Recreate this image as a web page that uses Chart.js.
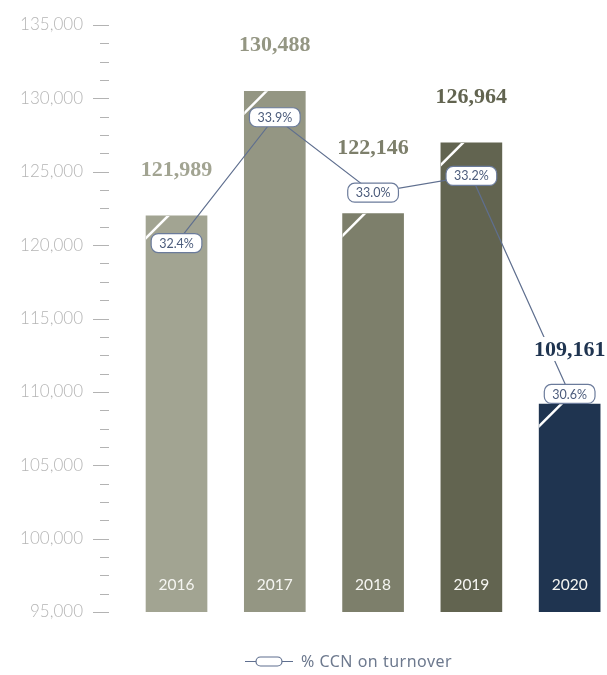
<!DOCTYPE html>
<html>
<head>
<meta charset="utf-8">
<script src="https://cdn.jsdelivr.net/npm/chart.js@4.4.1/dist/chart.umd.min.js"></script>
<style>
  html, body { margin: 0; padding: 0; background: #fff; overflow: hidden; }
</style>
</head>
<body>
<canvas id="myChart" width="607" height="675"></canvas>
<script>
// chart values
const years = ['2016', '2017', '2018', '2019', '2020'];
const turnover = [121989, 130488, 122146, 126964, 109161];
const ccnShare = [32.4, 33.9, 33.0, 33.2, 30.6];
const barColors = ['#a2a492', '#949683', '#7d7f6b', '#626450', '#1f3450'];
const legendLabel = '% CCN on turnover';

const lineColor = '#5f6f8f';
const boxText = '#4b5b7b';
const fmt = v => v.toLocaleString('en-US');

function roundRect(ctx, x, y, w, h, r) {
    ctx.beginPath();
    ctx.moveTo(x + r, y);
    ctx.arcTo(x + w, y, x + w, y + h, r);
    ctx.arcTo(x + w, y + h, x, y + h, r);
    ctx.arcTo(x, y + h, x, y, r);
    ctx.arcTo(x, y, x + w, y, r);
    ctx.closePath();
}

const decor = {
    id: 'decor',
    beforeDatasetsDraw(chart) {
        // major / minor tick marks on the value axis
        let ctx = chart.ctx, scale = chart.scales.y, right = chart.chartArea.left;
        ctx.save();
        ctx.strokeStyle = '#b3b3b3';
        ctx.lineWidth = 1;
        scale.ticks.forEach(t => {
            let y = Math.round(scale.getPixelForValue(t.value)) + 0.5;
            let major = t.value % 5000 === 0;
            ctx.beginPath();
            ctx.moveTo(major ? right - 16 : right - 9, y);
            ctx.lineTo(right, y);
            ctx.stroke();
        });
        ctx.restore();
    },
    afterDatasetDraw(chart, args) {
        if (args.index !== 0) return;
        let ctx = chart.ctx;
        let bottom = chart.chartArea.bottom;
        ctx.save();
        args.meta.data.forEach((bar, i) => {
            let left = bar.x - bar.width / 2;
            // white cut on the top-left corner
            ctx.save();
            ctx.beginPath();
            ctx.rect(left, bar.y, bar.width, bottom - bar.y);
            ctx.clip();
            ctx.strokeStyle = '#ffffff';
            ctx.lineWidth = 2.5;
            ctx.beginPath();
            ctx.moveTo(left - 2, bar.y + 24);
            ctx.lineTo(left + 24, bar.y - 2);
            ctx.stroke();
            ctx.restore();
            // year inside the bar
            ctx.fillStyle = '#f6f6f2';
            ctx.font = '15.5px Lato, "Noto Sans", sans-serif';
            ctx.textAlign = 'center';
            ctx.textBaseline = 'middle';
            ctx.fillText(years[i], bar.x, bottom - 27);
        });
        ctx.restore();
    },
    afterDatasetsDraw(chart) {
        let ctx = chart.ctx;
        let bars = chart.getDatasetMeta(0).data;
        let pts = chart.getDatasetMeta(1).data;
        ctx.save();
        // value labels above the bars, lifted over a nearby % box
        ctx.font = 'bold 22px "Liberation Serif", "DejaVu Serif", serif';
        ctx.textAlign = 'center';
        ctx.textBaseline = 'middle';
        bars.forEach((bar, i) => {
            let y = bar.y - 47;
            if (Math.abs(y - pts[i].y) < 40) y = pts[i].y - 45;
            let txt = fmt(turnover[i]);
            let w = ctx.measureText(txt).width;
            ctx.fillStyle = '#ffffff';
            ctx.fillRect(bar.x - w / 2 - 3, y - 12, w + 6, 24);
            ctx.fillStyle = barColors[i];
            ctx.fillText(txt, bar.x, y + 1);
        });
        // percentage boxes on the line
        ctx.font = '12.5px Lato, "Noto Sans", sans-serif';
        pts.forEach((p, i) => {
            let txt = ccnShare[i].toFixed(1) + '%';
            let w = ctx.measureText(txt).width + 16, h = 19;
            roundRect(ctx, p.x - w / 2, p.y - h / 2, w, h, 7);
            ctx.fillStyle = '#ffffff';
            ctx.fill();
            ctx.strokeStyle = '#6b7b9b';
            ctx.lineWidth = 1.2;
            ctx.stroke();
            ctx.fillStyle = boxText;
            ctx.fillText(txt, p.x, p.y + 0.5);
        });
        // legend
        let ly = 661.5;
        ctx.strokeStyle = lineColor;
        ctx.lineWidth = 1.2;
        ctx.beginPath();
        ctx.moveTo(245, ly);
        ctx.lineTo(293, ly);
        ctx.stroke();
        roundRect(ctx, 256, ly - 4.5, 26, 9, 4.5);
        ctx.fillStyle = '#ffffff';
        ctx.fill();
        ctx.stroke();
        ctx.fillStyle = '#6d798e';
        ctx.font = '16px "Noto Sans", Lato, sans-serif';
        ctx.letterSpacing = '0.5px';
        ctx.textAlign = 'left';
        ctx.fillText(legendLabel, 301, ly + 1);
        ctx.restore();
    }
};

let ctx = document.getElementById('myChart');
let myChart = new Chart(ctx, {
    data: {
        datasets: [{
            type: 'bar',
            label: 'Turnover',
            data: turnover.map((v, i) => ({x: i, y: v})),
            backgroundColor: barColors,
            barThickness: 61,
            order: 1
        }, {
            type: 'line',
            label: legendLabel,
            data: ccnShare.map((v, i) => ({x: i, y: v})),
            yAxisID: 'y2',
            borderColor: lineColor,
            borderWidth: 1.2,
            pointRadius: 0,
            tension: 0,
            clip: false,
            order: 0
        }]
    },
    options: {
        responsive: false,
        animation: false,
        layout: {padding: {left: 0, right: 0, top: 25, bottom: 63}},
        plugins: {legend: {display: false}, tooltip: {enabled: false}},
        scales: {
            x: {
                type: 'linear',
                display: false,
                offset: false,
                min: -0.687,
                max: 4.38
            },
            y: {
                min: 95000,
                max: 135000,
                afterFit: scale => {
                    scale.width = 109;
                    scale.paddingTop = 0;
                    scale.paddingBottom = 0;
                },
                grid: {drawOnChartArea: false, drawTicks: false},
                border: {display: false},
                ticks: {
                    stepSize: 1250,
                    autoSkip: false,
                    padding: 26,
                    color: '#b5b5b5',
                    font: {family: 'Lato, "Noto Sans", sans-serif', size: 17, weight: 300},
                    callback: v => v % 5000 === 0 ? fmt(v) : ''
                }
            },
            y2: {
                display: false,
                min: 28,
                max: 35
            }
        }
    },
    plugins: [decor]
});
</script>
</body>
</html>
